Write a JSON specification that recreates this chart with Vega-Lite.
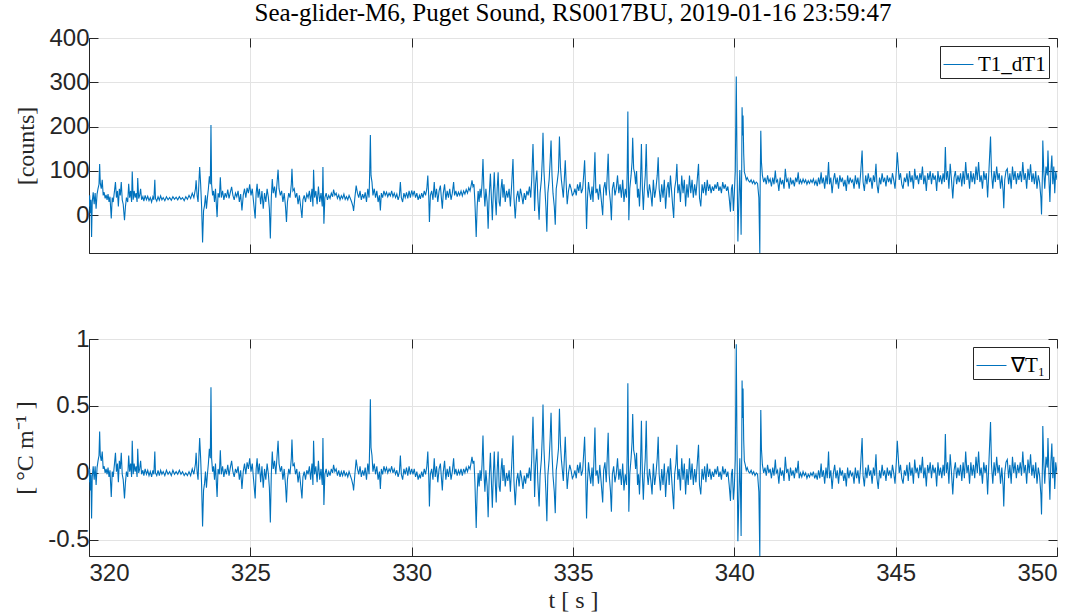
{
"$schema": "https://vega.github.io/schema/vega-lite/v6.json",
"background": "white",
"padding": {"left": 13, "top": 0, "right": 5, "bottom": 0},
"spacing": 72,
"config": {
  "view": {"stroke": "#262626", "strokeWidth": 1},
  "axis": {"labelFont": "Liberation Sans", "labelFontSize": 24, "labelColor": "#262626", "domainColor": "#262626", "tickColor": "#262626", "gridColor": "#e3e3e3", "gridOpacity": 1, "titleFont": "Liberation Serif", "titleFontWeight": "normal", "titleFontSize": 24, "titleColor": "#262626", "tickSize": -9, "labelPadding": 9, "titlePadding": 10},
  "legend": {"orient": "top-right", "offset": 8, "strokeColor": "#262626", "fillColor": "white", "padding": 3, "labelFont": "Liberation Serif", "labelFontSize": 21, "labelColor": "black", "symbolType": "stroke", "symbolSize": 900, "symbolStrokeWidth": 1, "title": null, "cornerRadius": 0}
},
"resolve": {"scale": {"color": "independent"}, "legend": {"color": "independent"}},
"datasets": {"d": [
{"t":320.00,"c":20,"g":-0.07},{"t":320.02,"c":45,"g":0.03},{"t":320.04,"c":5,"g":-0.13},{"t":320.06,"c":35,"g":-0.01},{"t":320.08,"c":-49,"g":-0.34},{"t":320.10,"c":30,"g":-0.03},{"t":320.13,"c":52,"g":0.05},{"t":320.16,"c":25,"g":-0.05},{"t":320.19,"c":50,"g":0.05},{"t":320.22,"c":15,"g":-0.09},{"t":320.25,"c":48,"g":0.04},{"t":320.28,"c":60,"g":0.09},{"t":320.31,"c":70,"g":0.13},{"t":320.33,"c":116,"g":0.31},{"t":320.35,"c":72,"g":0.13},{"t":320.38,"c":60,"g":0.09},{"t":320.41,"c":80,"g":0.16},{"t":320.44,"c":45,"g":0.03},{"t":320.47,"c":52,"g":0.05},{"t":320.50,"c":38,"g":0},{"t":320.53,"c":46,"g":0.03},{"t":320.56,"c":35,"g":-0.01},{"t":320.59,"c":48,"g":0.04},{"t":320.62,"c":30,"g":-0.03},{"t":320.65,"c":42,"g":0.02},{"t":320.69,"c":-7,"g":-0.18},{"t":320.72,"c":40,"g":0.01},{"t":320.75,"c":30,"g":-0.03},{"t":320.79,"c":55,"g":0.07},{"t":320.82,"c":75,"g":0.15},{"t":320.85,"c":40,"g":0.01},{"t":320.88,"c":55,"g":0.07},{"t":320.91,"c":20,"g":-0.07},{"t":320.94,"c":60,"g":0.09},{"t":320.97,"c":45,"g":0.03},{"t":321.00,"c":75,"g":0.15},{"t":321.03,"c":35,"g":-0.01},{"t":321.06,"c":25,"g":-0.05},{"t":321.10,"c":-11,"g":-0.19},{"t":321.13,"c":20,"g":-0.07},{"t":321.16,"c":40,"g":0.01},{"t":321.20,"c":30,"g":-0.03},{"t":321.23,"c":71,"g":0.13},{"t":321.26,"c":40,"g":0.01},{"t":321.29,"c":55,"g":0.07},{"t":321.32,"c":30,"g":-0.03},{"t":321.34,"c":99,"g":0.24},{"t":321.37,"c":35,"g":-0.01},{"t":321.40,"c":55,"g":0.07},{"t":321.43,"c":40,"g":0.01},{"t":321.46,"c":50,"g":0.05},{"t":321.49,"c":30,"g":-0.03},{"t":321.51,"c":84,"g":0.18},{"t":321.54,"c":38,"g":0},{"t":321.57,"c":45,"g":0.03},{"t":321.60,"c":60,"g":0.09},{"t":321.63,"c":35,"g":-0.01},{"t":321.67,"c":42,"g":0.02},{"t":321.70,"c":32,"g":-0.02},{"t":321.74,"c":45,"g":0.03},{"t":321.78,"c":35,"g":-0.01},{"t":321.82,"c":43,"g":0.02},{"t":321.86,"c":33,"g":-0.02},{"t":321.90,"c":40,"g":0.01},{"t":321.94,"c":30,"g":-0.03},{"t":321.98,"c":42,"g":0.02},{"t":322.01,"c":35,"g":-0.01},{"t":322.04,"c":80,"g":0.16},{"t":322.06,"c":38,"g":0},{"t":322.10,"c":32,"g":-0.02},{"t":322.14,"c":42,"g":0.02},{"t":322.18,"c":34,"g":-0.02},{"t":322.22,"c":44,"g":0.02},{"t":322.26,"c":35,"g":-0.01},{"t":322.30,"c":40,"g":0.01},{"t":322.35,"c":33,"g":-0.02},{"t":322.40,"c":42,"g":0.02},{"t":322.45,"c":35,"g":-0.01},{"t":322.50,"c":40,"g":0.01},{"t":322.55,"c":34,"g":-0.02},{"t":322.60,"c":42,"g":0.02},{"t":322.65,"c":36,"g":-0.01},{"t":322.70,"c":41,"g":0.01},{"t":322.75,"c":35,"g":-0.01},{"t":322.80,"c":42,"g":0.02},{"t":322.85,"c":36,"g":-0.01},{"t":322.90,"c":40,"g":0.01},{"t":322.95,"c":33,"g":-0.02},
{"t":323.00,"c":42,"g":0},{"t":323.05,"c":36,"g":-0.02},{"t":323.10,"c":45,"g":0.01},{"t":323.15,"c":38,"g":-0.02},{"t":323.20,"c":50,"g":0.03},{"t":323.25,"c":40,"g":-0.01},{"t":323.30,"c":60,"g":0.07},{"t":323.32,"c":79,"g":0.15},{"t":323.35,"c":45,"g":0.01},{"t":323.38,"c":30,"g":-0.05},{"t":323.41,"c":80,"g":0.15},{"t":323.43,"c":109,"g":0.26},{"t":323.46,"c":70,"g":0.11},{"t":323.49,"c":20,"g":-0.09},{"t":323.52,"c":-61,"g":-0.40},{"t":323.55,"c":10,"g":-0.13},{"t":323.58,"c":22,"g":-0.08},{"t":323.61,"c":45,"g":0.01},{"t":323.64,"c":15,"g":-0.11},{"t":323.67,"c":40,"g":-0.01},{"t":323.70,"c":60,"g":0.07},{"t":323.73,"c":88,"g":0.18},{"t":323.76,"c":70,"g":0.11},{"t":323.78,"c":204,"g":0.64},{"t":323.80,"c":70,"g":0.11},{"t":323.83,"c":45,"g":0.01},{"t":323.86,"c":55,"g":0.05},{"t":323.89,"c":30,"g":-0.05},{"t":323.92,"c":60,"g":0.07},{"t":323.95,"c":20,"g":-0.09},{"t":323.97,"c":-4,"g":-0.18},{"t":324.00,"c":50,"g":0.03},{"t":324.04,"c":40,"g":-0.01},{"t":324.07,"c":86,"g":0.17},{"t":324.10,"c":40,"g":-0.01},{"t":324.14,"c":55,"g":0.05},{"t":324.18,"c":35,"g":-0.03},{"t":324.22,"c":50,"g":0.03},{"t":324.26,"c":40,"g":-0.01},{"t":324.30,"c":58,"g":0.06},{"t":324.34,"c":38,"g":-0.02},{"t":324.38,"c":52,"g":0.04},{"t":324.42,"c":64,"g":0.09},{"t":324.46,"c":45,"g":0.01},{"t":324.50,"c":35,"g":-0.03},{"t":324.54,"c":50,"g":0.03},{"t":324.58,"c":42,"g":0},{"t":324.62,"c":55,"g":0.05},{"t":324.66,"c":30,"g":-0.05},{"t":324.70,"c":48,"g":0.02},{"t":324.74,"c":11,"g":-0.12},{"t":324.78,"c":45,"g":0.01},{"t":324.82,"c":60,"g":0.07},{"t":324.86,"c":40,"g":-0.01},{"t":324.90,"c":62,"g":0.08},{"t":324.94,"c":50,"g":0.03},{"t":324.98,"c":70,"g":0.11},{"t":325.02,"c":45,"g":0.01},{"t":325.06,"c":60,"g":0.07},{"t":325.10,"c":30,"g":-0.05},{"t":325.15,"c":-7,"g":-0.19},{"t":325.18,"c":50,"g":0.03},{"t":325.21,"c":71,"g":0.11},{"t":325.24,"c":40,"g":-0.01},{"t":325.28,"c":60,"g":0.07},{"t":325.32,"c":25,"g":-0.07},{"t":325.36,"c":55,"g":0.05},{"t":325.40,"c":15,"g":-0.11},{"t":325.44,"c":50,"g":0.03},{"t":325.48,"c":30,"g":-0.05},{"t":325.52,"c":60,"g":0.07},{"t":325.56,"c":40,"g":-0.01},{"t":325.59,"c":15,"g":-0.11},{"t":325.62,"c":-52,"g":-0.37},{"t":325.65,"c":40,"g":-0.01},{"t":325.68,"c":82,"g":0.16},{"t":325.71,"c":50,"g":0.03},{"t":325.75,"c":65,"g":0.09},{"t":325.79,"c":40,"g":-0.01},{"t":325.83,"c":75,"g":0.13},{"t":325.86,"c":103,"g":0.24},{"t":325.89,"c":60,"g":0.07},{"t":325.93,"c":45,"g":0.01},{"t":325.97,"c":55,"g":0.05},{"t":326.01,"c":30,"g":-0.05},{"t":326.05,"c":50,"g":0.03},{"t":326.09,"c":20,"g":-0.09},{"t":326.12,"c":-15,"g":-0.22},{"t":326.15,"c":30,"g":-0.05},{"t":326.19,"c":50,"g":0.03},{"t":326.23,"c":40,"g":-0.01},{"t":326.27,"c":70,"g":0.11},{"t":326.29,"c":105,"g":0.25},{"t":326.32,"c":55,"g":0.05},{"t":326.36,"c":60,"g":0.07},{"t":326.40,"c":40,"g":-0.01},{"t":326.44,"c":50,"g":0.03},{"t":326.48,"c":25,"g":-0.07},{"t":326.52,"c":45,"g":0.01},{"t":326.56,"c":20,"g":-0.09},{"t":326.60,"c":-6,"g":-0.19},{"t":326.63,"c":35,"g":-0.03},{"t":326.67,"c":45,"g":0.01},{"t":326.71,"c":30,"g":-0.05},{"t":326.75,"c":48,"g":0.02},{"t":326.79,"c":40,"g":-0.01},{"t":326.83,"c":55,"g":0.05},{"t":326.87,"c":30,"g":-0.05},{"t":326.91,"c":60,"g":0.07},{"t":326.94,"c":20,"g":-0.09},{"t":326.96,"c":103,"g":0.24},{"t":326.99,"c":40,"g":-0.01},{"t":327.03,"c":55,"g":0.05},{"t":327.07,"c":25,"g":-0.07},{"t":327.11,"c":65,"g":0.09},{"t":327.15,"c":30,"g":-0.05},{"t":327.19,"c":50,"g":0.03},{"t":327.23,"c":20,"g":-0.09},{"t":327.25,"c":109,"g":0.26},{"t":327.28,"c":-19,"g":-0.24},{"t":327.31,"c":40,"g":-0.01},{"t":327.35,"c":50,"g":0.03},{"t":327.39,"c":35,"g":-0.03},{"t":327.43,"c":45,"g":0.01},{"t":327.47,"c":38,"g":-0.02},{"t":327.51,"c":50,"g":0.03},{"t":327.55,"c":42,"g":0},{"t":327.58,"c":58,"g":0.06},{"t":327.62,"c":45,"g":0.01},{"t":327.66,"c":50,"g":0.03},{"t":327.70,"c":38,"g":-0.02},{"t":327.74,"c":46,"g":0.02},{"t":327.78,"c":35,"g":-0.03},{"t":327.82,"c":44,"g":0.01},{"t":327.86,"c":38,"g":-0.02},{"t":327.90,"c":48,"g":0.02},{"t":327.94,"c":36,"g":-0.02},{"t":327.98,"c":42,"g":0},{"t":328.02,"c":35,"g":-0.03},{"t":328.06,"c":45,"g":0.01},{"t":328.10,"c":38,"g":-0.02},{"t":328.14,"c":30,"g":-0.05},{"t":328.18,"c":20,"g":-0.09},{"t":328.20,"c":10,"g":-0.13},{"t":328.24,"c":40,"g":-0.01},{"t":328.28,"c":67,"g":0.10},{"t":328.32,"c":50,"g":0.03},{"t":328.36,"c":40,"g":-0.01},{"t":328.40,"c":55,"g":0.05},{"t":328.44,"c":35,"g":-0.03},{"t":328.48,"c":48,"g":0.02},{"t":328.52,"c":38,"g":-0.02},{"t":328.56,"c":52,"g":0.04},{"t":328.60,"c":30,"g":-0.05},{"t":328.64,"c":60,"g":0.07},{"t":328.68,"c":40,"g":-0.01},{"t":328.70,"c":100,"g":0.23},{"t":328.72,"c":181,"g":0.55},{"t":328.74,"c":90,"g":0.19},{"t":328.77,"c":75,"g":0.13},{"t":328.80,"c":45,"g":0.01},{"t":328.84,"c":60,"g":0.07},{"t":328.88,"c":40,"g":-0.01},{"t":328.92,"c":55,"g":0.05},{"t":328.96,"c":30,"g":-0.05},{"t":329.00,"c":45,"g":0.01},{"t":329.03,"c":11,"g":-0.12},{"t":329.06,"c":50,"g":0.03},{"t":329.10,"c":40,"g":-0.01},{"t":329.14,"c":55,"g":0.05},{"t":329.18,"c":45,"g":0.01},{"t":329.22,"c":52,"g":0.04},{"t":329.26,"c":42,"g":0},{"t":329.30,"c":50,"g":0.03},{"t":329.34,"c":44,"g":0.01},{"t":329.38,"c":55,"g":0.05},{"t":329.42,"c":42,"g":0},{"t":329.46,"c":50,"g":0.03},{"t":329.50,"c":40,"g":-0.01},{"t":329.54,"c":48,"g":0.02},{"t":329.58,"c":35,"g":-0.03},{"t":329.62,"c":45,"g":0.01},{"t":329.65,"c":75,"g":0.13},{"t":329.68,"c":40,"g":-0.01},{"t":329.72,"c":30,"g":-0.05},{"t":329.76,"c":50,"g":0.03},{"t":329.80,"c":40,"g":-0.01},{"t":329.84,"c":52,"g":0.04},{"t":329.88,"c":38,"g":-0.02},{"t":329.92,"c":55,"g":0.05},{"t":329.96,"c":40,"g":-0.01},
{"t":330.00,"c":56,"g":0.03},{"t":330.04,"c":45,"g":-0.01},{"t":330.08,"c":55,"g":0.03},{"t":330.12,"c":40,"g":-0.03},{"t":330.16,"c":50,"g":0.01},{"t":330.20,"c":35,"g":-0.05},{"t":330.24,"c":45,"g":-0.01},{"t":330.27,"c":37,"g":-0.04},{"t":330.31,"c":50,"g":0.01},{"t":330.35,"c":40,"g":-0.03},{"t":330.39,"c":55,"g":0.03},{"t":330.43,"c":45,"g":-0.01},{"t":330.47,"c":60,"g":0.05},{"t":330.50,"c":90,"g":0.16},{"t":330.53,"c":40,"g":-0.03},{"t":330.55,"c":-15,"g":-0.25},{"t":330.58,"c":45,"g":-0.01},{"t":330.62,"c":55,"g":0.03},{"t":330.66,"c":35,"g":-0.05},{"t":330.70,"c":75,"g":0.11},{"t":330.73,"c":40,"g":-0.03},{"t":330.77,"c":60,"g":0.05},{"t":330.81,"c":30,"g":-0.07},{"t":330.85,"c":55,"g":0.03},{"t":330.89,"c":67,"g":0.07},{"t":330.92,"c":40,"g":-0.03},{"t":330.95,"c":15,"g":-0.13},{"t":330.98,"c":50,"g":0.01},{"t":331.02,"c":70,"g":0.09},{"t":331.06,"c":35,"g":-0.05},{"t":331.10,"c":55,"g":0.03},{"t":331.14,"c":40,"g":-0.03},{"t":331.18,"c":60,"g":0.05},{"t":331.22,"c":35,"g":-0.05},{"t":331.26,"c":50,"g":0.01},{"t":331.30,"c":75,"g":0.11},{"t":331.33,"c":45,"g":-0.01},{"t":331.37,"c":55,"g":0.03},{"t":331.41,"c":42,"g":-0.02},{"t":331.45,"c":52,"g":0.02},{"t":331.49,"c":45,"g":-0.01},{"t":331.53,"c":55,"g":0.03},{"t":331.57,"c":44,"g":-0.02},{"t":331.61,"c":55,"g":0.03},{"t":331.65,"c":48,"g":0},{"t":331.69,"c":58,"g":0.04},{"t":331.73,"c":50,"g":0.01},{"t":331.77,"c":62,"g":0.05},{"t":331.81,"c":55,"g":0.03},{"t":331.85,"c":70,"g":0.09},{"t":331.87,"c":79,"g":0.12},{"t":331.90,"c":65,"g":0.07},{"t":331.93,"c":70,"g":0.09},{"t":331.96,"c":30,"g":-0.07},
{"t":332.00,"c":-49,"g":-0.41},{"t":332.03,"c":20,"g":-0.14},{"t":332.06,"c":55,"g":0},{"t":332.09,"c":30,"g":-0.10},{"t":332.12,"c":60,"g":0.02},{"t":332.15,"c":40,"g":-0.06},{"t":332.18,"c":70,"g":0.06},{"t":332.21,"c":127,"g":0.28},{"t":332.24,"c":55,"g":0},{"t":332.27,"c":20,"g":-0.14},{"t":332.30,"c":60,"g":0.02},{"t":332.34,"c":30,"g":-0.10},{"t":332.37,"c":-30,"g":-0.33},{"t":332.40,"c":40,"g":-0.06},{"t":332.44,"c":94,"g":0.15},{"t":332.47,"c":40,"g":-0.06},{"t":332.50,"c":-11,"g":-0.26},{"t":332.53,"c":50,"g":-0.02},{"t":332.56,"c":97,"g":0.16},{"t":332.59,"c":40,"g":-0.06},{"t":332.62,"c":0,"g":-0.22},{"t":332.65,"c":60,"g":0.02},{"t":332.68,"c":97,"g":0.16},{"t":332.71,"c":30,"g":-0.10},{"t":332.74,"c":20,"g":-0.14},{"t":332.77,"c":60,"g":0.02},{"t":332.80,"c":82,"g":0.11},{"t":332.83,"c":40,"g":-0.06},{"t":332.86,"c":70,"g":0.06},{"t":332.90,"c":30,"g":-0.10},{"t":332.94,"c":55,"g":0},{"t":332.98,"c":40,"g":-0.06},{"t":333.02,"c":60,"g":0.02},{"t":333.06,"c":20,"g":-0.14},{"t":333.10,"c":70,"g":0.06},{"t":333.14,"c":127,"g":0.28},{"t":333.17,"c":40,"g":-0.06},{"t":333.21,"c":-7,"g":-0.24},{"t":333.25,"c":40,"g":-0.06},{"t":333.29,"c":55,"g":0},{"t":333.33,"c":30,"g":-0.10},{"t":333.37,"c":60,"g":0.02},{"t":333.41,"c":45,"g":-0.04},{"t":333.45,"c":25,"g":-0.12},{"t":333.49,"c":50,"g":-0.02},{"t":333.53,"c":35,"g":-0.08},{"t":333.57,"c":55,"g":0},{"t":333.61,"c":45,"g":-0.04},{"t":333.65,"c":65,"g":0.04},{"t":333.69,"c":40,"g":-0.06},{"t":333.72,"c":80,"g":0.10},{"t":333.76,"c":161,"g":0.42},{"t":333.78,"c":109,"g":0.21},{"t":333.81,"c":10,"g":-0.18},{"t":333.84,"c":70,"g":0.06},{"t":333.88,"c":101,"g":0.18},{"t":333.91,"c":40,"g":-0.06},{"t":333.95,"c":-10,"g":-0.25},{"t":333.98,"c":50,"g":-0.02},{"t":334.02,"c":80,"g":0.10},{"t":334.05,"c":130,"g":0.29},{"t":334.07,"c":186,"g":0.51},{"t":334.10,"c":100,"g":0.18},{"t":334.13,"c":60,"g":0.02},{"t":334.16,"c":20,"g":-0.14},{"t":334.19,"c":-37,"g":-0.36},{"t":334.22,"c":50,"g":-0.02},{"t":334.26,"c":80,"g":0.10},{"t":334.29,"c":120,"g":0.25},{"t":334.32,"c":169,"g":0.45},{"t":334.35,"c":90,"g":0.14},{"t":334.38,"c":50,"g":-0.02},{"t":334.42,"c":20,"g":-0.14},{"t":334.45,"c":-21,"g":-0.30},{"t":334.48,"c":60,"g":0.02},{"t":334.51,"c":75,"g":0.08},{"t":334.55,"c":100,"g":0.18},{"t":334.58,"c":178,"g":0.48},{"t":334.61,"c":110,"g":0.22},{"t":334.64,"c":80,"g":0.10},{"t":334.67,"c":60,"g":0.02},{"t":334.70,"c":40,"g":-0.06},{"t":334.73,"c":80,"g":0.10},{"t":334.76,"c":124,"g":0.27},{"t":334.79,"c":70,"g":0.06},{"t":334.82,"c":25,"g":-0.12},{"t":334.86,"c":55,"g":0},{"t":334.90,"c":71,"g":0.06},{"t":334.94,"c":60,"g":0.02},{"t":334.98,"c":45,"g":-0.04},{"t":335.02,"c":49,"g":-0.02},{"t":335.06,"c":60,"g":0.02},{"t":335.10,"c":45,"g":-0.04},{"t":335.14,"c":70,"g":0.06},{"t":335.18,"c":55,"g":0},{"t":335.22,"c":75,"g":0.08},{"t":335.26,"c":50,"g":-0.02},{"t":335.30,"c":60,"g":0.02},{"t":335.33,"c":90,"g":0.14},{"t":335.36,"c":124,"g":0.27},{"t":335.39,"c":60,"g":0.02},{"t":335.42,"c":-31,"g":-0.34},{"t":335.45,"c":40,"g":-0.06},{"t":335.48,"c":75,"g":0.08},{"t":335.52,"c":50,"g":-0.02},{"t":335.55,"c":35,"g":-0.08},{"t":335.59,"c":65,"g":0.04},{"t":335.62,"c":30,"g":-0.10},{"t":335.65,"c":80,"g":0.10},{"t":335.68,"c":142,"g":0.34},{"t":335.71,"c":50,"g":-0.02},{"t":335.75,"c":60,"g":0.02},{"t":335.79,"c":35,"g":-0.08},{"t":335.83,"c":70,"g":0.06},{"t":335.87,"c":40,"g":-0.06},{"t":335.92,"c":0,"g":-0.22},{"t":335.95,"c":60,"g":0.02},{"t":335.99,"c":75,"g":0.08},
{"t":336.03,"c":45,"g":-0.07},{"t":336.06,"c":90,"g":0.11},{"t":336.09,"c":139,"g":0.30},{"t":336.12,"c":60,"g":-0.01},{"t":336.16,"c":30,"g":-0.13},{"t":336.19,"c":-11,"g":-0.29},{"t":336.22,"c":60,"g":-0.01},{"t":336.26,"c":75,"g":0.05},{"t":336.30,"c":45,"g":-0.07},{"t":336.34,"c":60,"g":-0.01},{"t":336.38,"c":90,"g":0.11},{"t":336.42,"c":50,"g":-0.05},{"t":336.46,"c":70,"g":0.03},{"t":336.50,"c":40,"g":-0.09},{"t":336.54,"c":80,"g":0.07},{"t":336.58,"c":30,"g":-0.13},{"t":336.62,"c":60,"g":-0.01},{"t":336.66,"c":40,"g":-0.09},{"t":336.68,"c":100,"g":0.15},{"t":336.70,"c":234,"g":0.67},{"t":336.73,"c":-11,"g":-0.29},{"t":336.76,"c":60,"g":-0.01},{"t":336.80,"c":90,"g":0.11},{"t":336.83,"c":120,"g":0.23},{"t":336.85,"c":175,"g":0.44},{"t":336.88,"c":105,"g":0.17},{"t":336.91,"c":95,"g":0.13},{"t":336.94,"c":70,"g":0.03},{"t":336.97,"c":100,"g":0.15},{"t":337.00,"c":40,"g":-0.09},{"t":337.03,"c":60,"g":-0.01},{"t":337.06,"c":20,"g":-0.16},{"t":337.09,"c":70,"g":0.03},{"t":337.12,"c":161,"g":0.39},{"t":337.15,"c":60,"g":-0.01},{"t":337.18,"c":12,"g":-0.20},{"t":337.21,"c":60,"g":-0.01},{"t":337.24,"c":90,"g":0.11},{"t":337.27,"c":161,"g":0.39},{"t":337.30,"c":60,"g":-0.01},{"t":337.33,"c":40,"g":-0.09},{"t":337.37,"c":70,"g":0.03},{"t":337.41,"c":50,"g":-0.05},{"t":337.45,"c":20,"g":-0.16},{"t":337.49,"c":80,"g":0.07},{"t":337.53,"c":40,"g":-0.09},{"t":337.57,"c":60,"g":-0.01},{"t":337.61,"c":90,"g":0.11},{"t":337.64,"c":131,"g":0.27},{"t":337.67,"c":60,"g":-0.01},{"t":337.71,"c":30,"g":-0.13},{"t":337.75,"c":70,"g":0.03},{"t":337.79,"c":40,"g":-0.09},{"t":337.83,"c":80,"g":0.07},{"t":337.87,"c":15,"g":-0.18},{"t":337.91,"c":60,"g":-0.01},{"t":337.95,"c":75,"g":0.05},{"t":337.98,"c":40,"g":-0.09},{"t":338.02,"c":90,"g":0.11},{"t":338.06,"c":50,"g":-0.05},{"t":338.09,"c":20,"g":-0.16},{"t":338.12,"c":-6,"g":-0.27},{"t":338.15,"c":60,"g":-0.01},{"t":338.19,"c":80,"g":0.07},{"t":338.22,"c":116,"g":0.21},{"t":338.25,"c":50,"g":-0.05},{"t":338.29,"c":70,"g":0.03},{"t":338.33,"c":30,"g":-0.13},{"t":338.37,"c":90,"g":0.11},{"t":338.41,"c":50,"g":-0.05},{"t":338.45,"c":80,"g":0.07},{"t":338.49,"c":20,"g":-0.16},{"t":338.53,"c":70,"g":0.03},{"t":338.57,"c":40,"g":-0.09},{"t":338.61,"c":90,"g":0.11},{"t":338.65,"c":50,"g":-0.05},{"t":338.69,"c":80,"g":0.07},{"t":338.73,"c":40,"g":-0.09},{"t":338.77,"c":70,"g":0.03},{"t":338.81,"c":45,"g":-0.07},{"t":338.85,"c":80,"g":0.07},{"t":338.89,"c":116,"g":0.21},{"t":338.92,"c":40,"g":-0.09},{"t":338.96,"c":20,"g":-0.16},{"t":339.00,"c":70,"g":0.03},{"t":339.04,"c":50,"g":-0.05},{"t":339.08,"c":75,"g":0.05},{"t":339.12,"c":45,"g":-0.07},{"t":339.16,"c":80,"g":0.07},{"t":339.20,"c":55,"g":-0.03},{"t":339.24,"c":70,"g":0.03},{"t":339.28,"c":50,"g":-0.05},{"t":339.32,"c":65,"g":0.01},{"t":339.36,"c":55,"g":-0.03},{"t":339.40,"c":70,"g":0.03},{"t":339.44,"c":60,"g":-0.01},{"t":339.48,"c":75,"g":0.05},{"t":339.52,"c":55,"g":-0.03},{"t":339.56,"c":65,"g":0.01},{"t":339.60,"c":50,"g":-0.05},{"t":339.64,"c":75,"g":0.05},{"t":339.68,"c":60,"g":-0.01},{"t":339.72,"c":70,"g":0.03},{"t":339.76,"c":55,"g":-0.03},{"t":339.80,"c":65,"g":0.01},{"t":339.84,"c":40,"g":-0.09},{"t":339.88,"c":8,"g":-0.21},{"t":339.91,"c":60,"g":-0.01},{"t":339.94,"c":70,"g":0.03},{"t":339.97,"c":10,"g":-0.20},
{"t":340.00,"c":50,"g":-0.10},{"t":340.03,"c":100,"g":0.10},{"t":340.06,"c":313,"g":0.96},{"t":340.08,"c":150,"g":0.29},{"t":340.11,"c":-59,"g":-0.51},{"t":340.14,"c":30,"g":-0.18},{"t":340.17,"c":102,"g":0.11},{"t":340.19,"c":50,"g":-0.10},{"t":340.21,"c":-44,"g":-0.47},{"t":340.23,"c":120,"g":0.18},{"t":340.24,"c":244,"g":0.69},{"t":340.26,"c":180,"g":0.41},{"t":340.27,"c":225,"g":0.63},{"t":340.29,"c":140,"g":0.25},{"t":340.31,"c":98,"g":0.09},{"t":340.34,"c":90,"g":0.06},{"t":340.37,"c":80,"g":0.02},{"t":340.40,"c":85,"g":0.04},{"t":340.44,"c":78,"g":0.01},{"t":340.48,"c":75,"g":0},{"t":340.52,"c":80,"g":0.02},{"t":340.56,"c":72,"g":-0.01},{"t":340.60,"c":78,"g":0.01},{"t":340.64,"c":70,"g":-0.02},{"t":340.68,"c":75,"g":0},{"t":340.72,"c":72,"g":-0.01},{"t":340.76,"c":40,"g":-0.14},{"t":340.79,"c":-86,"g":-0.63},{"t":340.80,"c":60,"g":-0.06},{"t":340.82,"c":191,"g":0.47},{"t":340.84,"c":120,"g":0.18},{"t":340.87,"c":90,"g":0.06},{"t":340.91,"c":75,"g":0},{"t":340.95,"c":85,"g":0.04},{"t":340.99,"c":70,"g":-0.02},{"t":341.03,"c":90,"g":0.06},{"t":341.07,"c":75,"g":0},{"t":341.11,"c":82,"g":0.03},{"t":341.15,"c":65,"g":-0.04},{"t":341.19,"c":85,"g":0.04},{"t":341.23,"c":70,"g":-0.02},{"t":341.27,"c":101,"g":0.10},{"t":341.30,"c":75,"g":0},{"t":341.34,"c":80,"g":0.02},{"t":341.38,"c":55,"g":-0.08},{"t":341.42,"c":85,"g":0.04},{"t":341.46,"c":70,"g":-0.02},{"t":341.50,"c":80,"g":0.02},{"t":341.54,"c":60,"g":-0.06},{"t":341.58,"c":105,"g":0.12},{"t":341.62,"c":75,"g":0},{"t":341.66,"c":82,"g":0.03},{"t":341.70,"c":60,"g":-0.06},{"t":341.74,"c":85,"g":0.04},{"t":341.78,"c":70,"g":-0.02},{"t":341.82,"c":80,"g":0.02},{"t":341.86,"c":65,"g":-0.04},{"t":341.90,"c":85,"g":0.04},{"t":341.94,"c":75,"g":0},{"t":341.98,"c":97,"g":0.09},
{"t":342.01,"c":70,"g":-0.04},{"t":342.05,"c":80,"g":0},{"t":342.09,"c":72,"g":-0.03},{"t":342.13,"c":82,"g":0.01},{"t":342.17,"c":74,"g":-0.02},{"t":342.21,"c":80,"g":0},{"t":342.25,"c":70,"g":-0.04},{"t":342.29,"c":78,"g":-0.01},{"t":342.33,"c":72,"g":-0.03},{"t":342.37,"c":80,"g":0},{"t":342.41,"c":74,"g":-0.02},{"t":342.45,"c":82,"g":0.01},{"t":342.49,"c":70,"g":-0.04},{"t":342.53,"c":78,"g":-0.01},{"t":342.57,"c":66,"g":-0.05},{"t":342.61,"c":85,"g":0.02},{"t":342.65,"c":70,"g":-0.04},{"t":342.69,"c":97,"g":0.07},{"t":342.72,"c":72,"g":-0.03},{"t":342.76,"c":85,"g":0.02},{"t":342.80,"c":60,"g":-0.08},{"t":342.84,"c":90,"g":0.04},{"t":342.88,"c":70,"g":-0.04},{"t":342.92,"c":120,"g":0.16},{"t":342.95,"c":70,"g":-0.04},{"t":342.99,"c":85,"g":0.02},{"t":343.03,"c":50,"g":-0.12},{"t":343.07,"c":80,"g":0},{"t":343.11,"c":95,"g":0.06},{"t":343.15,"c":70,"g":-0.04},{"t":343.19,"c":85,"g":0.02},{"t":343.23,"c":60,"g":-0.08},{"t":343.27,"c":90,"g":0.04},{"t":343.31,"c":75,"g":-0.02},{"t":343.35,"c":85,"g":0.02},{"t":343.39,"c":65,"g":-0.06},{"t":343.43,"c":80,"g":0},{"t":343.47,"c":55,"g":-0.10},{"t":343.51,"c":90,"g":0.04},{"t":343.55,"c":70,"g":-0.04},{"t":343.59,"c":85,"g":0.02},{"t":343.63,"c":75,"g":-0.02},{"t":343.67,"c":80,"g":0},{"t":343.71,"c":60,"g":-0.08},{"t":343.75,"c":90,"g":0.04},{"t":343.79,"c":70,"g":-0.04},{"t":343.83,"c":85,"g":0.02},{"t":343.87,"c":60,"g":-0.08},{"t":343.91,"c":90,"g":0.04},{"t":343.96,"c":146,"g":0.26},{"t":343.99,"c":75,"g":-0.02},{"t":344.03,"c":55,"g":-0.10},{"t":344.07,"c":90,"g":0.04},{"t":344.11,"c":70,"g":-0.04},{"t":344.15,"c":95,"g":0.06},{"t":344.19,"c":75,"g":-0.02},{"t":344.23,"c":85,"g":0.02},{"t":344.27,"c":60,"g":-0.08},{"t":344.31,"c":90,"g":0.04},{"t":344.35,"c":75,"g":-0.02},{"t":344.39,"c":116,"g":0.14},{"t":344.42,"c":70,"g":-0.04},{"t":344.46,"c":50,"g":-0.12},{"t":344.50,"c":85,"g":0.02},{"t":344.54,"c":70,"g":-0.04},{"t":344.58,"c":95,"g":0.06},{"t":344.62,"c":75,"g":-0.02},{"t":344.66,"c":85,"g":0.02},{"t":344.70,"c":65,"g":-0.06},{"t":344.74,"c":90,"g":0.04},{"t":344.78,"c":75,"g":-0.02},{"t":344.82,"c":85,"g":0.02},{"t":344.86,"c":70,"g":-0.04},{"t":344.90,"c":95,"g":0.06},{"t":344.94,"c":80,"g":0},{"t":344.98,"c":60,"g":-0.08},{"t":345.02,"c":100,"g":0.08},{"t":345.05,"c":142,"g":0.24},{"t":345.08,"c":110,"g":0.12},{"t":345.11,"c":80,"g":0},{"t":345.15,"c":95,"g":0.06},{"t":345.19,"c":70,"g":-0.04},{"t":345.23,"c":60,"g":-0.08},{"t":345.27,"c":85,"g":0.02},{"t":345.31,"c":75,"g":-0.02},{"t":345.35,"c":95,"g":0.06},{"t":345.39,"c":65,"g":-0.06},{"t":345.43,"c":100,"g":0.08},{"t":345.47,"c":75,"g":-0.02},{"t":345.51,"c":90,"g":0.04},{"t":345.55,"c":60,"g":-0.08},{"t":345.59,"c":105,"g":0.10},{"t":345.63,"c":80,"g":0},{"t":345.67,"c":90,"g":0.04},{"t":345.71,"c":70,"g":-0.04},{"t":345.75,"c":95,"g":0.06},{"t":345.79,"c":80,"g":0},{"t":345.83,"c":110,"g":0.12},{"t":345.87,"c":70,"g":-0.04},{"t":345.91,"c":90,"g":0.04},{"t":345.95,"c":55,"g":-0.10},{"t":345.99,"c":95,"g":0.06},{"t":346.03,"c":80,"g":0},{"t":346.07,"c":100,"g":0.08},{"t":346.11,"c":70,"g":-0.04},{"t":346.15,"c":95,"g":0.06},{"t":346.19,"c":80,"g":0},{"t":346.23,"c":90,"g":0.04},{"t":346.27,"c":55,"g":-0.10},{"t":346.31,"c":100,"g":0.08},{"t":346.35,"c":75,"g":-0.02},{"t":346.39,"c":90,"g":0.04},{"t":346.43,"c":70,"g":-0.04},{"t":346.47,"c":95,"g":0.06},{"t":346.51,"c":75,"g":-0.02},{"t":346.54,"c":154,"g":0.29},{"t":346.57,"c":80,"g":0},{"t":346.61,"c":100,"g":0.08},{"t":346.65,"c":60,"g":-0.08},{"t":346.69,"c":116,"g":0.14},{"t":346.73,"c":80,"g":0},{"t":346.77,"c":38,"g":-0.16},{"t":346.81,"c":85,"g":0.02},{"t":346.85,"c":100,"g":0.08},{"t":346.89,"c":70,"g":-0.04},{"t":346.93,"c":90,"g":0.04},{"t":346.97,"c":75,"g":-0.02},{"t":347.01,"c":95,"g":0.06},{"t":347.05,"c":65,"g":-0.06},{"t":347.09,"c":100,"g":0.08},{"t":347.13,"c":70,"g":-0.04},{"t":347.17,"c":120,"g":0.16},{"t":347.21,"c":80,"g":0},{"t":347.25,"c":95,"g":0.06},{"t":347.29,"c":60,"g":-0.08},{"t":347.33,"c":100,"g":0.08},{"t":347.37,"c":75,"g":-0.02},{"t":347.41,"c":95,"g":0.06},{"t":347.45,"c":70,"g":-0.04},{"t":347.49,"c":110,"g":0.12},{"t":347.53,"c":80,"g":0},{"t":347.57,"c":120,"g":0.16},{"t":347.61,"c":75,"g":-0.02},{"t":347.65,"c":90,"g":0.04},{"t":347.69,"c":60,"g":-0.08},{"t":347.73,"c":100,"g":0.08},{"t":347.77,"c":80,"g":0},{"t":347.81,"c":95,"g":0.06},{"t":347.85,"c":40,"g":-0.16},{"t":347.89,"c":100,"g":0.08},{"t":347.94,"c":178,"g":0.38},{"t":347.97,"c":95,"g":0.06},{"t":348.01,"c":60,"g":-0.08},{"t":348.05,"c":100,"g":0.08},{"t":348.09,"c":75,"g":-0.02},{"t":348.13,"c":110,"g":0.12},{"t":348.17,"c":80,"g":0},{"t":348.21,"c":95,"g":0.06},{"t":348.25,"c":60,"g":-0.08},{"t":348.29,"c":90,"g":0.04},{"t":348.33,"c":55,"g":-0.10},{"t":348.35,"c":16,"g":-0.25},{"t":348.38,"c":80,"g":0},{"t":348.42,"c":100,"g":0.08},{"t":348.46,"c":105,"g":0.10},{"t":348.50,"c":70,"g":-0.04},{"t":348.54,"c":95,"g":0.06},{"t":348.58,"c":60,"g":-0.08},{"t":348.62,"c":110,"g":0.12},{"t":348.66,"c":80,"g":0},{"t":348.70,"c":100,"g":0.08},{"t":348.74,"c":70,"g":-0.04},{"t":348.78,"c":95,"g":0.06},{"t":348.82,"c":80,"g":0},{"t":348.86,"c":100,"g":0.08},{"t":348.90,"c":75,"g":-0.02},{"t":348.94,"c":120,"g":0.16},{"t":348.98,"c":80,"g":0},{"t":349.02,"c":95,"g":0.06},{"t":349.06,"c":60,"g":-0.08},{"t":349.10,"c":105,"g":0.10},{"t":349.14,"c":80,"g":0},{"t":349.18,"c":115,"g":0.14},{"t":349.22,"c":75,"g":-0.02},{"t":349.26,"c":95,"g":0.06},{"t":349.30,"c":70,"g":-0.04},{"t":349.34,"c":100,"g":0.08},{"t":349.38,"c":60,"g":-0.08},{"t":349.42,"c":90,"g":0.04},{"t":349.46,"c":75,"g":-0.02},{"t":349.50,"c":40,"g":-0.16},{"t":349.52,"c":2,"g":-0.31},{"t":349.55,"c":100,"g":0.08},{"t":349.56,"c":169,"g":0.35},{"t":349.59,"c":100,"g":0.08},{"t":349.62,"c":60,"g":-0.08},{"t":349.66,"c":110,"g":0.12},{"t":349.70,"c":90,"g":0.04},{"t":349.72,"c":146,"g":0.26},{"t":349.75,"c":80,"g":0},{"t":349.78,"c":30,"g":-0.20},{"t":349.81,"c":100,"g":0.08},{"t":349.84,"c":135,"g":0.22},{"t":349.87,"c":70,"g":-0.04},{"t":349.90,"c":110,"g":0.12},{"t":349.93,"c":50,"g":-0.12},{"t":349.96,"c":100,"g":0.08},{"t":350.00,"c":80,"g":0}
]},
"vconcat": [
 {
  "width": 968, "height": 215,
  "title": {"text": "Sea-glider-M6, Puget Sound, RS0017BU, 2019-01-16 23:59:47", "font": "Liberation Serif", "fontSize": 25, "fontWeight": "normal", "color": "black", "frame": "group", "anchor": "middle", "offset": 0},
  "data": {"name": "d"},
  "layer": [
   {"mark": {"type": "line", "strokeWidth": 1.1, "clip": true},
    "encoding": {
     "x": {"field": "t", "type": "quantitative", "scale": {"domain": [320, 350], "nice": false, "zero": false}, "axis": {"values": [320, 325, 330, 335, 340, 345, 350], "labels": false, "title": null, "grid": true}},
     "y": {"field": "c", "type": "quantitative", "scale": {"domain": [-85, 400], "nice": false, "zero": false}, "axis": {"values": [0, 100, 200, 300, 400], "title": "[counts]", "grid": true}},
     "color": {"datum": "T1_dT1", "type": "nominal", "scale": {"range": ["#0072BD"]}, "legend": {}}
    }},
   {"mark": {"type": "line", "opacity": 0},
    "encoding": {
     "x": {"field": "t", "type": "quantitative", "scale": {"domain": [320, 350], "nice": false, "zero": false}, "axis": {"orient": "top", "values": [320, 325, 330, 335, 340, 345, 350], "labels": false, "title": null, "grid": false, "domain": false}},
     "y": {"field": "c", "type": "quantitative", "scale": {"domain": [-85, 400], "nice": false, "zero": false}, "axis": {"orient": "right", "values": [0, 100, 200, 300, 400], "labels": false, "title": null, "grid": false, "domain": false}}
    }}
  ],
  "resolve": {"axis": {"x": "independent", "y": "independent"}}
 },
 {
  "width": 968, "height": 217,
  "data": {"name": "d"},
  "layer": [
   {"mark": {"type": "line", "strokeWidth": 1.1, "clip": true},
    "encoding": {
     "x": {"field": "t", "type": "quantitative", "scale": {"domain": [320, 350], "nice": false, "zero": false}, "axis": {"values": [320, 325, 330, 335, 340, 345, 350], "title": "t [ s ]", "grid": true, "labelPadding": 14, "titlePadding": 3}},
     "y": {"field": "g", "type": "quantitative", "scale": {"domain": [-0.62, 1], "nice": false, "zero": false}, "axis": {"values": [-0.5, 0, 0.5, 1], "title": "[ °C m⁻¹ ]", "grid": true, "labelExpr": "datum.value == -0.5 ? '-0.5' : datum.value == 0 ? '0' : datum.value == 0.5 ? '0.5' : '1'"}},
     "color": {"datum": "∇T₁", "type": "nominal", "scale": {"range": ["#0072BD"]}, "legend": {}}
    }},
   {"mark": {"type": "line", "opacity": 0},
    "encoding": {
     "x": {"field": "t", "type": "quantitative", "scale": {"domain": [320, 350], "nice": false, "zero": false}, "axis": {"orient": "top", "values": [320, 325, 330, 335, 340, 345, 350], "labels": false, "title": null, "grid": false, "domain": false}},
     "y": {"field": "g", "type": "quantitative", "scale": {"domain": [-0.62, 1], "nice": false, "zero": false}, "axis": {"orient": "right", "values": [-0.5, 0, 0.5, 1], "labels": false, "title": null, "grid": false, "domain": false}}
    }}
  ],
  "resolve": {"axis": {"x": "independent", "y": "independent"}}
 }
]
}
